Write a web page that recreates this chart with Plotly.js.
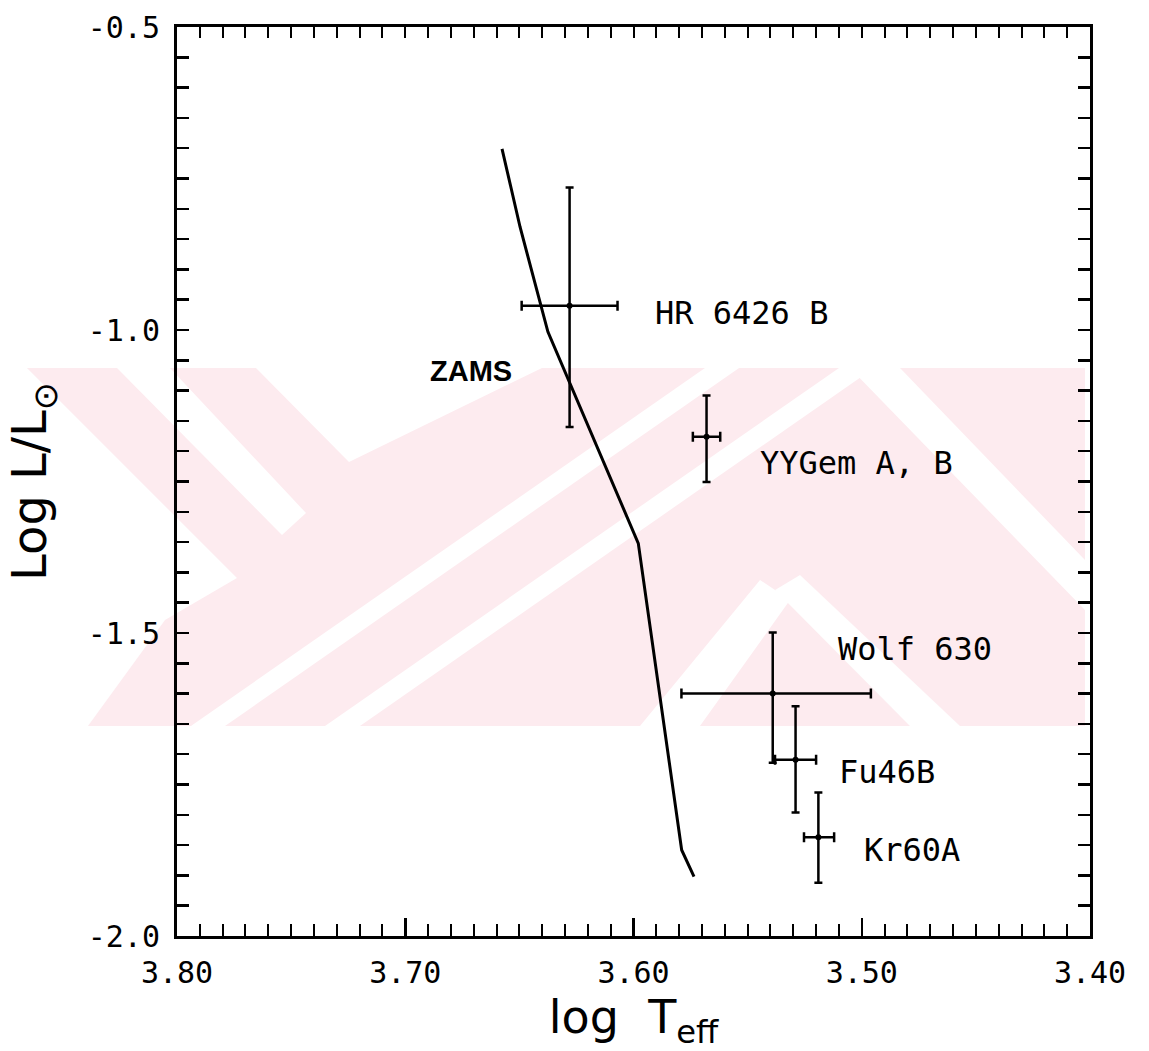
<!DOCTYPE html>
<html>
<head>
<meta charset="utf-8">
<script src="https://cdn.plot.ly/plotly-3.0.1.min.js"></script>
<style>
  html, body { margin: 0; padding: 0; background: #fff; }
  #chart { width: 1149px; height: 1051px; }
</style>
</head>
<body>
<div id="chart"></div>
<script>
// ---- Data ----
// ZAMS curve (log Teff, log L/Lsun)
const zamsLogT = [3.6576, 3.6497, 3.6375, 3.5979, 3.5789, 3.5735];
const zamsLogL = [-0.701, -0.830, -1.003, -1.352, -1.858, -1.902];

// Stars
const starNames   = ["HR 6426 B", "YYGem A, B", "Wolf 630", "Fu46B", "Kr60A"];
const starLogT    = [3.628, 3.568, 3.539, 3.529, 3.519];
const starLogL    = [-0.960, -1.176, -1.600, -1.709, -1.837];
const logTPlus    = [0.021, 0.006, 0.040, 0.009, 0.0063];
const logTMinus   = [0.021, 0.006, 0.043, 0.009, 0.0069];
const logLPlus    = [0.195, 0.068, 0.101, 0.088, 0.074];
const logLMinus   = [0.200, 0.075, 0.114, 0.087, 0.075];

// Axis tick labels
const xTickVals = [3.80, 3.70, 3.60, 3.50, 3.40];
const xTickText = ["3.80", "3.70", "3.60", "3.50", "3.40"];
const yTickVals = [-0.5, -1.0, -1.5, -2.0];
const yTickText = ["-0.5", "-1.0", "-1.5", "-2.0"];

// ---- Label placement (data coordinates, left-anchored) ----
const labelPos = [
  [3.5915, -0.972],
  [3.5455, -1.2195],
  [3.5113, -1.5264],
  [3.5108, -1.7294],
  [3.4999, -1.858]
];
const zamsLabel = {text: "ZAMS", x: 3.690, y: -1.0677};

// ---- Layout geometry ----
const W = 1149, H = 1051;
const L = 177, R = 1090, T = 27, B = 936;

function toPaper(p) {
  return [((p[0] - L) / (R - L)).toFixed(4), ((B - p[1]) / (B - T)).toFixed(4)];
}
function polyPath(pts) {
  return "M" + pts.map(p => toPaper(p).join(",")).join("L") + "Z";
}

// faint background watermark (pixel geometry)
const wmPink = [[27,368],[1085,368],[1085,726],[27,726]];
const wmWhite = [
  [[15,368],[27,368],[237,578],[165,620],[88,726],[15,726]],
  [[117,368],[170,368],[306,513],[282,535]],
  [[256,368],[542,368],[349,462]],
  [[191,726],[225,726],[739,368],[705,368]],
  [[325,726],[360,726],[874,368],[839,368]],
  [[640,726],[700,726],[790,600],[760,580]],
  [[775,590],[800,575],[960,726],[910,726]],
  [[850,368],[900,368],[1085,560],[1085,610]]
];
const shapes = [];
shapes.push({type: "path", xref: "paper", yref: "paper", path: polyPath(wmPink),
  fillcolor: "rgb(253,235,239)", line: {width: 0}, layer: "below"});
wmWhite.forEach(p => shapes.push({type: "path", xref: "paper", yref: "paper",
  path: polyPath(p), fillcolor: "#ffffff", line: {width: 0}, layer: "below"}));

const tickFont = {family: "DejaVu Sans Mono", size: 30, color: "#000"};
const labelFont = {family: "DejaVu Sans Mono", size: 32, color: "#000"};

const traces = [
  {
    x: zamsLogT, y: zamsLogL, type: "scatter", mode: "lines",
    line: {color: "#000", width: 3}, hoverinfo: "skip", showlegend: false
  },
  {
    x: starLogT, y: starLogL, type: "scatter", mode: "markers",
    marker: {color: "#000", size: 6},
    error_x: {type: "data", symmetric: false, array: logTPlus, arrayminus: logTMinus,
              color: "#000", thickness: 2.5, width: 5},
    error_y: {type: "data", symmetric: false, array: logLPlus, arrayminus: logLMinus,
              color: "#000", thickness: 2.5, width: 4},
    text: starNames, hoverinfo: "text", showlegend: false
  },
  {
    x: [xTickVals[0]], y: [yTickVals[0]], xaxis: "x2", type: "scatter", mode: "markers",
    marker: {opacity: 0}, hoverinfo: "skip", showlegend: false
  }
];

const annotations = starNames.map((n, i) => ({
  text: n, x: labelPos[i][0], y: labelPos[i][1], xref: "x", yref: "y",
  xanchor: "left", yanchor: "middle", showarrow: false, font: labelFont
}));
annotations.push({
  text: zamsLabel.text, x: zamsLabel.x, y: zamsLabel.y, xref: "x", yref: "y",
  xanchor: "left", yanchor: "middle", showarrow: false,
  font: {family: "Liberation Sans", size: 29, color: "#000", weight: "bold"}
});

const layout = {
  width: W, height: H,
  margin: {l: L, r: W - R, t: T, b: H - B, pad: 0},
  paper_bgcolor: "#ffffff",
  plot_bgcolor: "rgba(0,0,0,0)",
  showlegend: false,
  shapes: shapes,
  annotations: annotations,
  xaxis: {
    range: [3.80, 3.40], autorange: false,
    tickmode: "array", tickvals: xTickVals, ticktext: xTickText,
    ticks: "inside", ticklen: 18, tickwidth: 2.5, tickcolor: "#000",
    minor: {dtick: 0.01, tick0: 3.40, ticks: "inside", ticklen: 12, tickwidth: 2, tickcolor: "#000", showgrid: false},
    showline: true, linewidth: 3, linecolor: "#000", mirror: true,
    showgrid: false, zeroline: false,
    tickfont: tickFont, ticklabelstandoff: 8,
    title: {text: "log  T<sub>eff</sub>", font: {family: "DejaVu Sans", size: 46, color: "#000"}, standoff: 14}
  },
  xaxis2: {
    overlaying: "x", side: "top", anchor: "y",
    range: [3.80, 3.40], autorange: false,
    tick0: 3.40, dtick: 0.01,
    ticks: "inside", ticklen: 11, tickwidth: 2, tickcolor: "#000",
    showticklabels: false, showline: false, showgrid: false, zeroline: false
  },
  yaxis: {
    range: [-2.0, -0.5], autorange: false,
    tickmode: "array", tickvals: yTickVals, ticktext: yTickText,
    ticks: "inside", ticklen: 12, tickwidth: 2.5, tickcolor: "#000",
    minor: {dtick: 0.05, tick0: -2.0, ticks: "inside", ticklen: 12, tickwidth: 2.5, tickcolor: "#000", showgrid: false},
    showline: true, linewidth: 3, linecolor: "#000", mirror: "ticks",
    showgrid: false, zeroline: false,
    tickfont: tickFont, ticklabelstandoff: 8,
    title: {text: "Log L/L<sub>⊙</sub>", font: {family: "DejaVu Sans", size: 48, color: "#000"}, standoff: 26}
  }
};

Plotly.newPlot("chart", traces, layout, {displayModeBar: false, staticPlot: true});
</script>
</body>
</html>
